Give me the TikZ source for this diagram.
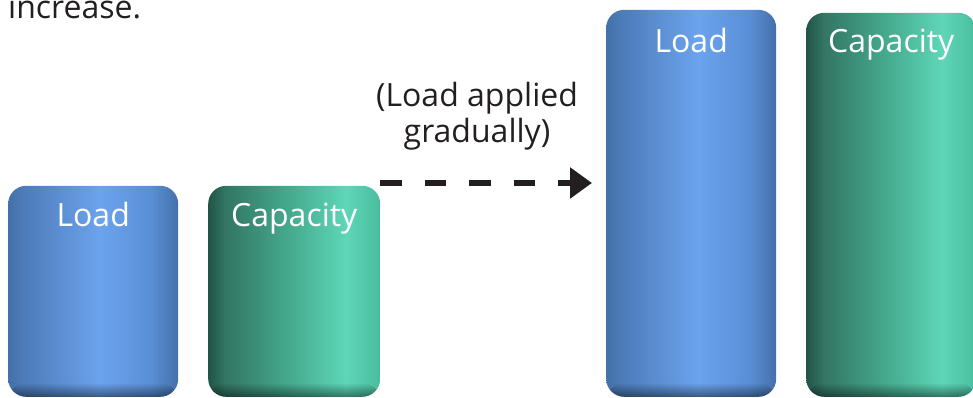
\documentclass[tikz,border=0pt]{standalone}
\usepackage{fontspec}
\setmainfont{Open Sans}
\usetikzlibrary{arrows.meta,fadings}
\pgfdeclarehorizontalshading{loadshade}{100bp}{%
 rgb(0bp)=(0.27,0.44,0.66);
 rgb(25bp)=(0.27,0.44,0.66);
 rgb(29bp)=(0.30,0.48,0.72);
 rgb(52bp)=(0.42,0.64,0.93);
 rgb(67bp)=(0.35,0.56,0.84);
 rgb(75bp)=(0.27,0.44,0.66);
 rgb(100bp)=(0.27,0.44,0.66)}
\pgfdeclarehorizontalshading{capshade}{100bp}{%
 rgb(0bp)=(0.13,0.33,0.27);
 rgb(25bp)=(0.13,0.33,0.27);
 rgb(30bp)=(0.20,0.46,0.39);
 rgb(48bp)=(0.27,0.66,0.55);
 rgb(65bp)=(0.37,0.84,0.72);
 rgb(75bp)=(0.29,0.74,0.62);
 rgb(100bp)=(0.29,0.74,0.62)}
\tikzfading[name=rimfade, top color=transparent!100, middle color=transparent!75, bottom color=transparent!100]
\tikzfading[name=basefade, top color=transparent!100, bottom color=transparent!55]
\definecolor{txt}{HTML}{231F20}
\tikzset{
  bar/.style={rounded corners=18pt, inner sep=0pt, minimum width=170pt, anchor=south west,
    path picture={
      \fill[white, path fading=rimfade] ([yshift=-2pt]path picture bounding box.north west) rectangle ([yshift=-20pt]path picture bounding box.north east);
      \fill[black, path fading=basefade] ([yshift=14pt]path picture bounding box.south west) rectangle (path picture bounding box.south east);
    }},
  loadbar/.style={bar, shading=loadshade},
  capbar/.style={bar, shading=capshade, minimum width=172pt},
  barlabel/.style={anchor=base, text=white, font=\fontsize{32}{36}\selectfont, inner sep=0pt},
  plain/.style={text=txt, font=\fontsize{32}{36}\selectfont, inner sep=0pt},
}
\begin{document}
\begin{tikzpicture}[x=1pt,y=-1pt]
\useasboundingbox (0,0) rectangle (973,398);
\node[plain, anchor=base west] (inc) at (8,19) {increase.};
% small bars
\node[loadbar, minimum height=211pt] (l1) at (8,397) {};
\node[capbar, minimum height=211pt] (c1) at (208,397) {};
% big bars
\node[loadbar, minimum height=387pt] (l2) at (606,397) {};
\node[capbar, minimum height=384pt, minimum width=170pt] (c2) at (806,397) {};
% labels
\node[barlabel] (l1t) at ([yshift=-41pt]l1.north) {Load};
\node[barlabel] (c1t) at ([yshift=-41pt]c1.north) {Capacity};
\node[barlabel] (l2t) at ([yshift=-43pt]l2.north) {Load};
\node[barlabel] (c2t) at ([yshift=-40pt]c2.north) {Capacity};
% arrow text
\node[plain, align=center, anchor=base] (note) at (477,143) {(Load applied\\gradually)};
\coordinate (as) at (380,183);
\coordinate (ae) at (592,183);
\draw[txt, line width=6pt, dash pattern=on 21.5pt off 23pt, -{Triangle[length=22pt,width=30pt]}] (as) -- (ae);
\end{tikzpicture}
\end{document}
